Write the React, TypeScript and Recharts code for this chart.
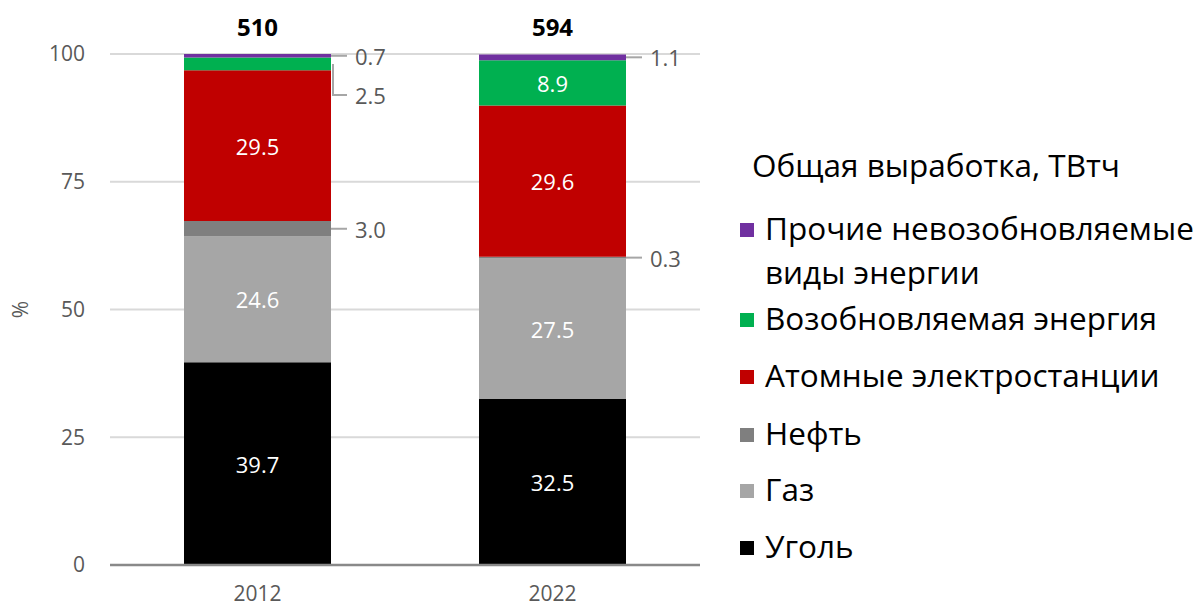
import React from "react";
import {
  BarChart, Bar, XAxis, YAxis, CartesianGrid, LabelList, Label,
} from "recharts";

const years = ["2012", "2022"];
const totals = [510, 594];
const coal = [39.7, 32.5];
const gas = [24.6, 27.5];
const oil = [3.0, 0.3];
const nuclear = [29.5, 29.6];
const renewable = [2.5, 8.9];
const other = [0.7, 1.1];
const yTicks = [0, 25, 50, 75, 100];

const series = [
  { key: "coal", name: "Уголь", color: "#000000", values: coal },
  { key: "gas", name: "Газ", color: "#a6a6a6", values: gas },
  { key: "oil", name: "Нефть", color: "#7f7f7f", values: oil },
  { key: "nuclear", name: "Атомные электростанции", color: "#c00000", values: nuclear },
  { key: "renewable", name: "Возобновляемая энергия", color: "#00b050", values: renewable },
  { key: "other", name: "Прочие невозобновляемые\nвиды энергии", color: "#7030a0", values: other },
];

const data = years.map((year, i) => {
  const row: Record<string, any> = { year };
  series.forEach((s) => { row[s.key] = s.values[i]; });
  return row;
});

// which labels sit outside the bar with a leader line (value = vertical drop in px)
const outside: Record<string, (number | null)[]> = {
  other: [0, 0],
  renewable: [31, null],
  oil: [0, 0],
};

// legend rows, top to bottom, with their centre y in px
const legendOrder = ["other", "renewable", "nuclear", "oil", "gas", "coal"];
const legendY = [228, 318, 375, 433, 489, 546];

const FONT = "'Open Sans', sans-serif";
const GREY = "#595959";

/* eslint-disable @typescript-eslint/no-explicit-any */
function makeLabel(key: string, values: number[]) {
  return function SegLabel(props: any) {
    const { x, y, width, height, index } = props;
    const v = values[index];
    const txt = v.toFixed(1);
    const out = outside[key] ? outside[key][index] : null;
    if (out === null || out === undefined) {
      return (
        <text x={x + width / 2} y={y + height / 2} fill="#ffffff" fontSize={22} fontFamily={FONT}
          textAnchor="middle" dominantBaseline="central">{txt}</text>
      );
    }
    const x1 = x + width;
    const y1 = y + height / 2;
    const pts = out
      ? `${x1 + 2},${y1} ${x1 + 2},${y1 + out} ${x1 + 16},${y1 + out}`
      : `${x1},${y1} ${x1 + 16},${y1}`;
    return (
      <g>
        <polyline points={pts} fill="none" stroke="#a6a6a6" strokeWidth={2} />
        <text x={x1 + 24} y={y1 + out} fill={GREY} fontSize={22} fontFamily={FONT}
          dominantBaseline="central">{txt}</text>
      </g>
    );
  };
}

function TotalLabel(props: any) {
  const { x, y, width, index } = props;
  return (
    <text x={x + width / 2} y={y - 28} fill="#000000" fontSize={24} fontWeight={700} fontFamily={FONT}
      textAnchor="middle" dominantBaseline="central">{totals[index]}</text>
  );
}

function PctLabel(props: any) {
  const { viewBox } = props;
  const cy = viewBox.y + viewBox.height / 2;
  return (
    <text x={20} y={cy} fill={GREY} fontSize={21} fontFamily={FONT} textAnchor="middle"
      dominantBaseline="central" transform={`rotate(-90, 20, ${cy})`}>%</text>
  );
}
/* eslint-enable @typescript-eslint/no-explicit-any */

export default function App() {
  return (
    <div style={{ position: "absolute", left: 0, top: 0, width: 1196, height: 609, background: "#fff" }}>
      <BarChart width={1196} height={609} data={data}
        margin={{ top: 54, right: 496, left: 10, bottom: 6 }} barSize={147}>
        <CartesianGrid vertical={false} stroke="#d9d9d9" strokeWidth={2} />
        <XAxis dataKey="year" axisLine={{ stroke: "#898989", strokeWidth: 2.5 }} tickLine={false}
          tick={{ fill: GREY, fontSize: 21, fontFamily: FONT }} tickMargin={15} height={38} />
        <YAxis width={100} domain={[0, 100]} ticks={yTicks} axisLine={false} tickLine={false}
          tickSize={0} tickMargin={25} tick={{ fill: GREY, fontSize: 21, fontFamily: FONT }}>
          <Label content={<PctLabel />} />
        </YAxis>
        {series.map((s) => (
          <Bar key={s.key} dataKey={s.key} stackId="a" fill={s.color} isAnimationActive={false}>
            <LabelList dataKey={s.key} content={makeLabel(s.key, s.values)} />
            {s.key === "other" && <LabelList dataKey={s.key} content={<TotalLabel />} />}
          </Bar>
        ))}
      </BarChart>
      <div style={{ position: "absolute", left: 752, top: 145, fontFamily: FONT, fontSize: 31.5, color: "#000",
        lineHeight: "40px", whiteSpace: "nowrap" }}>
        Общая выработка, ТВтч
      </div>
      {legendOrder.map((k, i) => {
        const s = series.find((d) => d.key === k)!;
        return (
          <div key={k} style={{ position: "absolute", left: 740, top: legendY[i] - 22, display: "flex",
            alignItems: "flex-start", fontFamily: FONT, fontSize: 31.5, color: "#000", lineHeight: "44px" }}>
            <div style={{ width: 14, height: 14, background: s.color, marginTop: 17, marginRight: 11, flexShrink: 0 }} />
            <span style={{ whiteSpace: "pre" }}>{s.name}</span>
          </div>
        );
      })}
    </div>
  );
}
